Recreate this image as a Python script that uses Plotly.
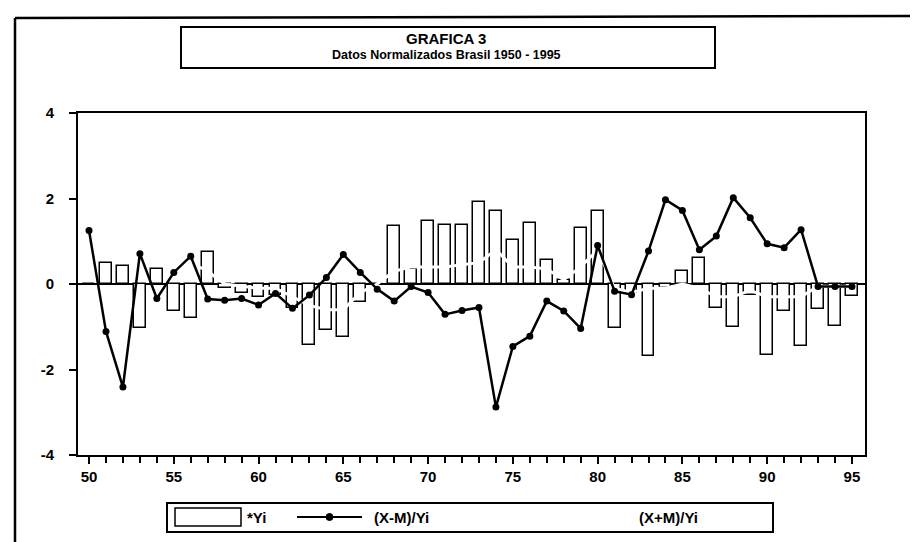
import plotly.graph_objects as go

# years 1950..1995
years = list(range(1950, 1996))

# *Yi (bars)
yi = [0.0, 0.50, 0.41, -1.04, 0.36, -0.63, -0.80, 0.76, -0.10, -0.20,
      -0.30, -0.25, -0.55, -1.43, -1.08, -1.25, -0.43, 0.0, 1.35, 0.36,
      1.48, 1.39, 1.39, 1.92, 1.70, 1.02, 1.43, 0.55, 0.10, 1.32,
      1.70, -1.04, -0.20, -1.68, -0.10, 0.30, 0.62, -0.55, -1.01, -0.26,
      -1.66, -0.63, -1.46, -0.59, -0.99, -0.29]

# (X-M)/Yi (black line)
xm_minus = [1.25, -1.11, -2.41, 0.71, -0.34, 0.27, 0.65, -0.35, -0.38, -0.34,
            -0.49, -0.22, -0.57, -0.26, 0.15, 0.69, 0.27, -0.12, -0.40, -0.06,
            -0.20, -0.71, -0.62, -0.55, -2.88, -1.46, -1.22, -0.40, -0.63, -1.04,
            0.90, -0.17, -0.25, 0.77, 1.97, 1.72, 0.80, 1.12, 2.02, 1.55,
            0.94, 0.85, 1.27, -0.06, -0.06, -0.06]

# (X+M)/Yi (white line, only shows where it cuts the bars)
xm_plus = [0.9, 0.7, 0.6, 0.4, 0.5, 0.3, 0.5, 0.3, 0.0, -0.05,
           -0.1, -0.1, -0.3, -0.5, -0.6, -0.6, -0.2, 0.0, 0.3, 0.4,
           0.4, 0.4, 0.45, 0.5, 0.8, 0.4, 0.4, 0.35, 0.1, 0.4,
           0.8, -0.1, -0.2, -0.1, -0.1, 0.0, -0.1, -0.3, -0.3, -0.15,
           -0.3, -0.3, -0.3, -0.05, -0.05, -0.05]

x_ticks = [1950, 1955, 1960, 1965, 1970, 1975, 1980, 1985, 1990, 1995]
x_labels = ["50", "55", "60", "65", "70", "75", "80", "85", "90", "95"]
y_ticks = [-4, -2, 0, 2, 4]
y_labels = ["-4", "-2", "0", "2", "4"]

W, H = 918, 542
L, R, T, B = 70, 857, 105, 447
FONT = "Liberation Sans, Arial, sans-serif"


def px(x):
    return (x - L) / (R - L)


def py(y):
    return (B - y) / (B - T)


fig = go.Figure()
fig.add_trace(go.Bar(x=years, y=yi, width=0.7, name="*Yi",
                     marker=dict(color="white", line=dict(color="black", width=1.5))))
fig.add_trace(go.Scatter(x=years, y=xm_plus, mode="lines", name="(X+M)/Yi",
                         line=dict(color="white", width=3)))
fig.add_trace(go.Scatter(x=years, y=xm_minus, mode="lines+markers", name="(X-M)/Yi",
                         line=dict(color="black", width=2.5),
                         marker=dict(color="black", size=7)))

shapes = [
    # outer frame of the scanned page
    dict(type="line", x0=px(7), x1=px(918), y0=py(10), y1=py(8), line=dict(color="black", width=2.5)),
    dict(type="line", x0=px(7), x1=px(7), y0=py(10), y1=py(542), line=dict(color="black", width=2.5)),
    dict(type="line", x0=px(465), x1=px(918), y0=py(538), y1=py(538), line=dict(color="black", width=1.5)),
    # title box
    dict(type="rect", x0=px(173), x1=px(707), y0=py(19), y1=py(60), line=dict(color="black", width=2)),
    # legend box
    dict(type="rect", x0=px(159), x1=px(765), y0=py(495), y1=py(524), line=dict(color="black", width=2)),
    dict(type="rect", x0=px(167), x1=px(233), y0=py(500), y1=py(518),
         fillcolor="white", line=dict(color="black", width=1.5)),
    dict(type="line", x0=px(289), x1=px(354), y0=py(509), y1=py(509), line=dict(color="black", width=2)),
    dict(type="circle", x0=px(318), x1=px(325), y0=py(505.5), y1=py(512.5),
         fillcolor="black", line=dict(color="black", width=1)),
]
for s in shapes:
    s.update(xref="paper", yref="paper")

annotations = [
    dict(x=px(438), y=py(30), text="GRAFICA 3", font=dict(size=15, weight="bold")),
    dict(x=px(438), y=py(47), text="Datos Normalizados Brasil 1950 - 1995", font=dict(size=12.5, weight="bold")),
    dict(x=px(237), y=py(509), text="*Yi", xanchor="left", font=dict(size=15, weight="bold")),
    dict(x=px(364), y=py(509), text="(X-M)/Yi", xanchor="left", font=dict(size=15, weight="bold")),
    dict(x=px(629), y=py(509), text="(X+M)/Yi", xanchor="left", font=dict(size=15, weight="bold")),
]
for a in annotations:
    a.update(xref="paper", yref="paper", yanchor="middle", showarrow=False)

fig.update_layout(
    width=W, height=H,
    margin=dict(l=L, r=W - R, t=T, b=H - B, autoexpand=False),
    paper_bgcolor="white", plot_bgcolor="white",
    font=dict(family=FONT, color="black", size=15),
    showlegend=False,
    bargap=0,
    shapes=shapes,
    annotations=annotations,
    xaxis=dict(range=[1949.35, 1995.77], tickvals=x_ticks, ticktext=x_labels,
               ticks="outside", ticklen=7, tickwidth=2, tickcolor="black",
               minor=dict(dtick=1, tick0=1950, ticks="outside", ticklen=6, tickwidth=1.5, tickcolor="black"),
               showline=True, linewidth=2, linecolor="black", mirror=True,
               showgrid=False, zeroline=False,
               tickfont=dict(size=15, weight="bold")),
    yaxis=dict(range=[-4, 4], tickvals=y_ticks, ticktext=y_labels,
               ticks="outside", ticklen=7, tickwidth=1.5, tickcolor="black",
               showline=True, linewidth=2, linecolor="black", mirror=True,
               showgrid=False, zeroline=True, zerolinecolor="black", zerolinewidth=1.5,
               ticklabelstandoff=12, tickfont=dict(size=15, weight="bold")),
)

fig.write_html("out.html")
